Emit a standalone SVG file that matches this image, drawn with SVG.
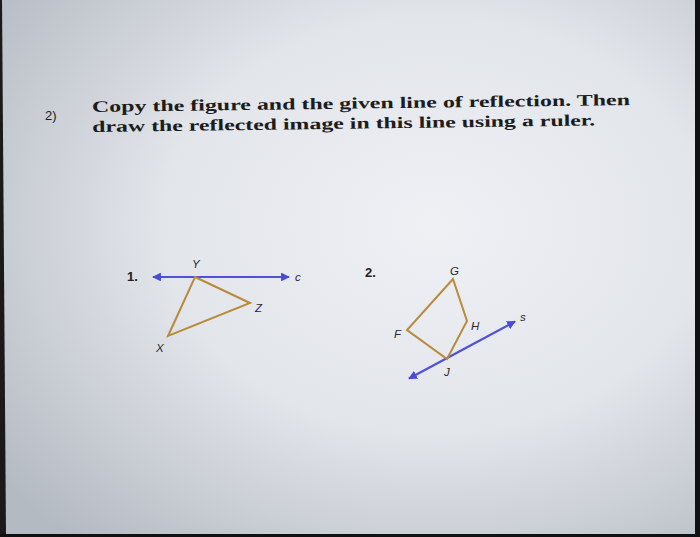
<svg xmlns="http://www.w3.org/2000/svg" width="700" height="537" viewBox="0 0 700 537">
<defs>
<radialGradient id="bg" cx="0.62" cy="0.42" r="0.78">
<stop offset="0" stop-color="#eef0f4"/>
<stop offset="0.5" stop-color="#e2e5ea"/>
<stop offset="1" stop-color="#b4bac2"/>
</radialGradient>
<marker id="ah" viewBox="0 0 10 10" refX="9" refY="5" markerWidth="4" markerHeight="4" orient="auto-start-reverse" markerUnits="strokeWidth">
<path d="M0,0 L10,5 L0,10 z" fill="#4a4ad6"/>
</marker>
<style>
.title{font-family:"Liberation Serif","Times New Roman",serif;font-size:16px;font-weight:bold;fill:#1c1c1c}
.num{font-family:"Liberation Sans",Arial,sans-serif;font-size:13px;fill:#222}
.bold{font-weight:bold}
.lbl{font-family:"Liberation Sans",Arial,sans-serif;font-size:11.5px;font-style:italic;fill:#2a2a2a}
.line{stroke:#5050d8;stroke-width:2.2;fill:none}
.shape{stroke:#b88a3c;stroke-width:2;fill:none;stroke-linejoin:miter}
</style>
</defs>
<rect width="700" height="537" fill="url(#bg)"/>
<polygon points="0,0 2,0 6,537 0,537" fill="#1a1a1a"/>
<rect x="695" y="0" width="5" height="537" fill="#111"/>
<rect x="0" y="534" width="700" height="3" fill="#111"/>

<g id="header">
<text class="num" x="45" y="120">2)</text>
<g transform="rotate(-0.75 92 113)">
<text class="title" x="92" y="112" textLength="538" lengthAdjust="spacingAndGlyphs">Copy the figure and the given line of reflection. Then</text>
<text class="title" x="92" y="132" textLength="503" lengthAdjust="spacingAndGlyphs">draw the reflected image in this line using a ruler.</text>
</g>
</g>

<g id="connectors">
<line class="line" x1="153" y1="277" x2="289" y2="277" marker-start="url(#ah)" marker-end="url(#ah)"/>
<line class="line" x1="409" y1="378.5" x2="515" y2="321.5" marker-start="url(#ah)" marker-end="url(#ah)"/>
</g>

<g id="figure1">
<text class="num bold" x="127" y="281">1.</text>
<polygon id="triangleXYZ" class="shape" points="195,277 250,303 168,336"/>
<g id="nodeY"><text class="lbl" x="192" y="268">Y</text></g>
<g id="nodeZ"><text class="lbl" x="255" y="312">Z</text></g>
<g id="nodeX"><text class="lbl" x="156" y="352">X</text></g>
<g id="labelC"><text class="lbl" x="295" y="281">c</text></g>
</g>

<g id="figure2">
<text class="num bold" x="365" y="277">2.</text>
<polygon id="quadFGHJ" class="shape" points="453,279 467,321 447,359 407,330"/>
<g id="nodeG"><text class="lbl" x="450" y="275">G</text></g>
<g id="nodeH"><text class="lbl" x="471" y="330">H</text></g>
<g id="nodeF"><text class="lbl" x="394" y="338">F</text></g>
<g id="nodeJ"><text class="lbl" x="444" y="376">J</text></g>
<g id="labelS"><text class="lbl" x="520" y="321">s</text></g>
</g>
</svg>
